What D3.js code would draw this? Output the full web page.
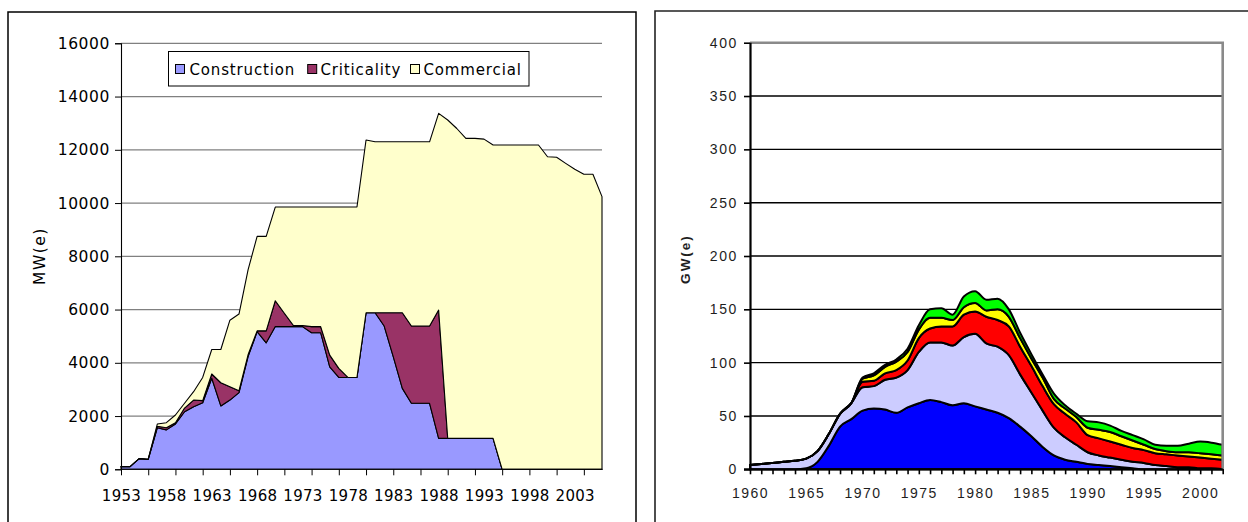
<!DOCTYPE html>
<html><head><meta charset="utf-8">
<script src="https://cdn.jsdelivr.net/npm/d3@7"></script>
<style>html,body{margin:0;padding:0;background:#fff;} svg{display:block}</style>
</head><body><svg id="c" width="1248" height="522"></svg>
<script>
// ---------- LEFT CHART DATA (MW(e)) ----------
const yearsL = [1953,1954,1955,1956,1957,1958,1959,1960,1961,1962,1963,1964,1965,1966,1967,1968,1969,1970,1971,1972,1973,1974,1975,1976,1977,1978,1979,1980,1981,1982,1983,1984,1985,1986,1987,1988,1989,1990,1991,1992,1993,1994,1995,1996,1997,1998,1999,2000,2001,2002,2003,2004,2005,2006];
const construction = [100,100,400,370,1560,1480,1700,2160,2350,2500,3420,2380,2600,2880,4230,5170,4750,5360,5360,5360,5360,5130,5130,3850,3450,3450,3450,5880,5880,5380,4230,3040,2480,2480,2480,1160,1160,1160,1160,1160,1160,1160,0,0,0,0,0,0,0,0,0,0,0,0];
const criticality = [0,0,0,10,60,80,50,140,250,80,160,870,500,70,70,30,450,970,500,40,40,230,230,440,340,0,0,0,0,500,1650,2840,2900,2900,2900,4820,0,0,0,0,0,0,0,0,0,0,0,0,0,0,0,0,0,0];
const commercial = [0,0,0,0,80,190,290,180,315,870,920,1250,2500,2880,3190,3550,3550,3520,3990,4450,4450,4490,4490,5560,6060,6400,6400,6490,6420,6420,6420,6420,6920,6920,6920,7390,11960,11640,11270,11270,11240,11020,12180,12180,12180,12180,12180,11740,11720,11490,11270,11080,11080,10240];
const seriesNamesL = ["Construction","Criticality","Commercial"];
const yTicksL = [0,2000,4000,6000,8000,10000,12000,14000,16000];
const xLabelsL = [1953,1958,1963,1968,1973,1978,1983,1988,1993,1998,2003];
const xTicksL = [1953,1956,1959,1962,1965,1968,1971,1974,1977,1980,1983,1986,1989,1992,1995,1998,2001,2004];

// ---------- RIGHT CHART DATA (GW(e)) ----------
const yearsR = [1960,1961,1962,1963,1964,1965,1966,1967,1968,1969,1970,1971,1972,1973,1974,1975,1976,1977,1978,1979,1980,1981,1982,1983,1984,1985,1986,1987,1988,1989,1990,1991,1992,1993,1994,1995,1996,1997,1998,1999,2000,2001,2002];
const rBlue   = [0,0,0,0,0,1,7,22,40,47,55,57,56,53,58,62,65,63,60,62,59,56,53,48,40,31,21,13,9,7,5,4,3,2,1,0,0,0,0,0,0,0,0];
const rLav    = [4,5,6,7,8,9,10,11,12,15,22,21,28,33,35,48,54,56,56,62,68,62,62,59,49,41,34,26,21,16,11,9,8,7,6,6,4,3,2,2,1,1,0];
const rRed    = [0,0,0,0,0,0,0,0,0,0,5,5,6,7,9,13,13,15,18,21,21,25,25,27,26,25,23,22,22,21,16,16,15,14,13,12,11,11,11,10,10,9,9];
const rYellow = [0,0,0,0,0,0,0,0,0,0,3,5,6,8,8,8,10,8,6,7,8,6,10,9,8,7,8,5,5,5,7,8,9,8,7,5,4,3,3,4,4,4,4];
const rGreen  = [0,0,0,0,0,0,0,0,0,0,1,2,2,2,3,4,8,9,5,10,11,10,10,7,5,4,3,5,3,3,6,7,6,5,5,5,4,5,6,8,11,11,10];
const yTicksR = [0,50,100,150,200,250,300,350,400];
const xLabelsR = [1960,1965,1970,1975,1980,1985,1990,1995,2000];

const svg = d3.select("#c");
svg.append("rect").attr("width",1248).attr("height",522).attr("fill","#fff");

// ================= LEFT PANEL =================
svg.append("path").attr("d","M8,523V12H636V523").attr("fill","none").attr("stroke","#000").attr("stroke-width",1.5);

const xL = d3.scaleLinear().domain([1953,2006]).range([121,602]);
const yL = d3.scaleLinear().domain([0,16000]).range([469.3,43.3]);
const gL = svg.append("g");

// gridlines
gL.selectAll("line.grid").data(yTicksL.filter(d=>d>0)).join("line")
  .attr("x1",121).attr("x2",602).attr("y1",d=>yL(d)).attr("y2",d=>yL(d))
  .attr("stroke","#808080").attr("stroke-width",1.2);

const tableL = yearsL.map((yr,i)=>({year:yr, Construction:construction[i], Criticality:criticality[i], Commercial:commercial[i]}));
const stackL = d3.stack().keys(seriesNamesL)(tableL);
const colorsL = {Construction:"#9999FF", Criticality:"#993366", Commercial:"#FFFFCC"};
const areaL = d3.area().x(d=>xL(d.data.year)).y0(d=>yL(d[0])).y1(d=>yL(d[1]));
gL.selectAll("path.area").data(stackL).join("path")
  .attr("d",areaL).attr("fill",d=>colorsL[d.key]).attr("stroke","#000").attr("stroke-width",1.1).attr("stroke-linejoin","round");

// y axis
const yAxL = gL.append("g").attr("transform","translate(121,0)")
  .call(d3.axisLeft(yL).tickValues(yTicksL).tickSize(6).tickPadding(5).tickFormat(d3.format("d")));
yAxL.select(".domain").attr("stroke","#000").attr("stroke-width",1.1);
yAxL.selectAll(".tick line").attr("stroke","#000");
yAxL.selectAll("text").attr("font-family","DejaVu Sans").attr("font-size","15.5px").attr("letter-spacing","0.6px").attr("fill","#000");

// x axis ticks
const xAxL = gL.append("g").attr("transform","translate(0,469.3)")
  .call(d3.axisBottom(xL).tickValues(xTicksL).tickSize(6).tickFormat(""));
xAxL.select(".domain").attr("stroke","#000").attr("stroke-width",1.1).attr("d","M121,0H602");
xAxL.selectAll(".tick line").attr("stroke","#000");
const xLabL = gL.append("g").attr("transform","translate(0,469.3)")
  .call(d3.axisBottom(xL).tickValues(xLabelsL).tickSize(0).tickPadding(21).tickFormat(d3.format("d")));
xLabL.select(".domain").remove();
xLabL.selectAll("text").attr("font-family","DejaVu Sans").attr("font-size","15px").attr("letter-spacing","0.3px").attr("fill","#000");

// y title
svg.append("text").attr("transform","translate(45,256) rotate(-90)").attr("text-anchor","middle")
  .attr("font-family","DejaVu Sans").attr("font-size","15.5px").attr("letter-spacing","1.5px").text("MW(e)");

// legend
const leg = svg.append("g");
leg.append("rect").attr("x",168.5).attr("y",51.5).attr("width",360.5).attr("height",34.5).attr("fill","#fff").attr("stroke","#000").attr("stroke-width",1);
const legPos = [{m:175.5,t:189.5},{m:307.7,t:320.5},{m:410.5,t:423.5}];
seriesNamesL.forEach((k,i)=>{
  leg.append("rect").attr("x",legPos[i].m).attr("y",64.5).attr("width",9).attr("height",9)
    .attr("fill",colorsL[k]).attr("stroke","#000").attr("stroke-width",1);
  leg.append("text").attr("x",legPos[i].t).attr("y",75).attr("font-family","DejaVu Sans")
    .attr("font-size","15px").attr("letter-spacing","0.85px").text(k);
});

// ================= RIGHT PANEL =================
svg.append("path").attr("d","M655,523V11H1249").attr("fill","none").attr("stroke","#222").attr("stroke-width",1.6);

const xR = d3.scaleLinear().domain([1960,2002]).range([750,1222.7]);
const yR = d3.scaleLinear().domain([0,400]).range([469.3,42.7]);
const gR = svg.append("g");

gR.selectAll("line.grid").data(yTicksR.filter(d=>d>0 && d<400)).join("line")
  .attr("x1",750).attr("x2",1222.7).attr("y1",d=>yR(d)).attr("y2",d=>yR(d))
  .attr("stroke","#000").attr("stroke-width",1.4);

const keysR = ["blue","lav","red","yellow","green"];
const tableR = yearsR.map((yr,i)=>({year:yr, blue:rBlue[i], lav:rLav[i], red:rRed[i], yellow:rYellow[i], green:rGreen[i]}));
const stackR = d3.stack().keys(keysR)(tableR);
const colorsR = {blue:"#0000FF", lav:"#CCCCFF", red:"#FF0000", yellow:"#FFFF00", green:"#00FF00"};
const areaR = d3.area().curve(d3.curveMonotoneX).x(d=>xR(d.data.year)).y0(d=>yR(d[0])).y1(d=>yR(d[1]));
gR.selectAll("path.area").data(stackR).join("path")
  .attr("d",areaR).attr("fill",d=>colorsR[d.key]).attr("stroke","#000").attr("stroke-width",2).attr("stroke-linejoin","round");

// frame (top / right) gray
gR.append("path").attr("d",`M750,${yR(400)}H${xR(2002)}V${yR(0)}`).attr("fill","none").attr("stroke","#8a8a8a").attr("stroke-width",2.6);

// y axis
const yAxR = gR.append("g").attr("transform","translate(750,0)")
  .call(d3.axisLeft(yR).tickValues(yTicksR).tickSize(6).tickPadding(6));
yAxR.select(".domain").attr("stroke","#000").attr("stroke-width",2.2).attr("d",`M0.5,${yR(400)}V${yR(0)+1}`);
yAxR.selectAll(".tick line").attr("stroke","#000").attr("stroke-width",1.6);
yAxR.selectAll("text").attr("font-family","Liberation Sans").attr("font-size","14px").attr("letter-spacing","1.6px").attr("fill","#1e1e1e");

// x axis
const xAxR = gR.append("g").attr("transform","translate(0,469.3)")
  .call(d3.axisBottom(xR).tickValues(yearsR).tickSize(5).tickFormat(""));
xAxR.select(".domain").attr("stroke","#000").attr("stroke-width",2.2).attr("d",`M744,0H${xR(2002)}`);
xAxR.selectAll(".tick line").attr("stroke","#000").attr("stroke-width",1.6);
const xLabR = gR.append("g").attr("transform","translate(0,469.3)")
  .call(d3.axisBottom(xR).tickValues(xLabelsR).tickSize(0).tickPadding(19).tickFormat(d3.format("d")));
xLabR.select(".domain").remove();
xLabR.selectAll("text").attr("font-family","Liberation Sans").attr("font-size","14px").attr("letter-spacing","1.5px").attr("fill","#1e1e1e");

svg.append("text").attr("transform","translate(690,259) rotate(-90)").attr("text-anchor","middle")
  .attr("font-family","Liberation Sans").attr("font-weight","bold").attr("font-size","13.5px").attr("letter-spacing","2px").attr("fill","#1e1e1e").text("GW(e)");
</script></body></html>
